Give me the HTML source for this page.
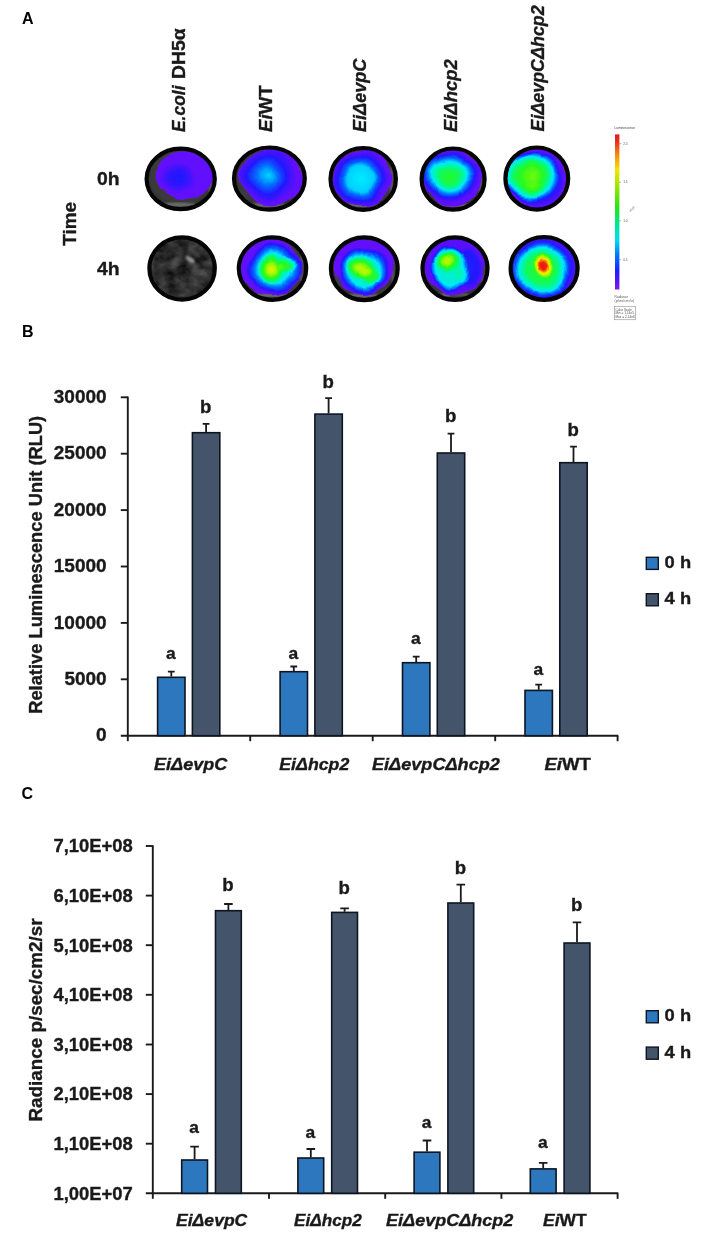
<!DOCTYPE html>
<html lang="en"><head><meta charset="utf-8"><title>Figure</title>
<style>html,body{margin:0;padding:0;background:#fff}svg{display:block;font-family:"Liberation Sans", sans-serif;will-change:transform}</style></head><body>
<svg width="703" height="1240" viewBox="0 0 703 1240">
<rect width="703" height="1240" fill="#fff"/>
<text x="22.0" y="23.6" font-size="16" font-weight="bold" font-style="normal" text-anchor="start" fill="#000" stroke="#000" stroke-width="0">A</text>
<text x="22.0" y="337.4" font-size="16" font-weight="bold" font-style="normal" text-anchor="start" fill="#000" stroke="#000" stroke-width="0">B</text>
<text x="21.5" y="799.4" font-size="16" font-weight="bold" font-style="normal" text-anchor="start" fill="#000" stroke="#000" stroke-width="0">C</text>
<defs>
<filter id="cm" x="-10%" y="-10%" width="120%" height="120%" color-interpolation-filters="sRGB"><feTurbulence type="fractalNoise" baseFrequency="0.05" numOctaves="1" seed="7" result="n"/><feDisplacementMap in="SourceGraphic" in2="n" scale="8" xChannelSelector="R" yChannelSelector="G" result="d"/><feColorMatrix in="d" type="matrix" values="0 0 0 1 0  0 0 0 1 0  0 0 0 1 0  0 0 0 1 0" result="g"/><feComponentTransfer in="g"><feFuncR type="table" tableValues="0.478 0.408 0.133 0.000 0.000 0.000 0.157 0.667 0.980 0.988 0.910"/><feFuncG type="table" tableValues="0.086 0.055 0.094 0.471 0.910 0.980 0.980 0.980 0.925 0.510 0.086"/><feFuncB type="table" tableValues="0.980 0.988 1.000 1.000 1.000 0.588 0.118 0.000 0.000 0.000 0.071"/><feFuncA type="table" tableValues="0 0 1 1 1 1 1 1 1 1 1 1 1 1 1 1 1 1 1 1 1 1 1 1 1"/></feComponentTransfer><feGaussianBlur stdDeviation="0.6"/></filter>
<filter id="tex" x="0" y="0" width="100%" height="100%" color-interpolation-filters="sRGB"><feTurbulence type="fractalNoise" baseFrequency="0.09" numOctaves="3" seed="3"/><feColorMatrix type="matrix" values=".36 .36 0 0 -.20  .36 .36 0 0 -.20  .36 .36 0 0 -.20  0 0 0 0 1"/></filter>
<filter id="bl1"><feGaussianBlur stdDeviation="1.2"/></filter>
<filter id="bl2"><feGaussianBlur stdDeviation="2.2"/></filter>
<radialGradient id="gbg" cx=".5" cy=".45" r=".55"><stop offset="0" stop-color="#3c3c3c"/><stop offset=".75" stop-color="#3a3a3a"/><stop offset="1" stop-color="#262626"/></radialGradient>
<linearGradient id="cbar" x1="0" y1="0" x2="0" y2="1"><stop offset="0" stop-color="#e31a1a"/><stop offset=".05" stop-color="#e8321a"/><stop offset=".13" stop-color="#f58a10"/><stop offset=".23" stop-color="#f2e600"/><stop offset=".36" stop-color="#86e600"/><stop offset=".48" stop-color="#1ee61e"/><stop offset=".58" stop-color="#00e696"/><stop offset=".68" stop-color="#00dcf0"/><stop offset=".78" stop-color="#0078ff"/><stop offset=".88" stop-color="#1e1eff"/><stop offset=".95" stop-color="#5a14f0"/><stop offset="1" stop-color="#7a1ee6"/></linearGradient>
<radialGradient id="f1"><stop offset="0" stop-color="#fff" stop-opacity="0.11"/><stop offset="0.9" stop-color="#fff" stop-opacity="0.11"/><stop offset="1" stop-color="#fff" stop-opacity="0"/></radialGradient>
<radialGradient id="f2"><stop offset="0" stop-color="#fff" stop-opacity="0.11"/><stop offset="0.45" stop-color="#fff" stop-opacity="0.08"/><stop offset="1" stop-color="#fff" stop-opacity="0"/></radialGradient>
<radialGradient id="f3"><stop offset="0" stop-color="#fff" stop-opacity="0.11"/><stop offset="0.93" stop-color="#fff" stop-opacity="0.11"/><stop offset="1" stop-color="#fff" stop-opacity="0"/></radialGradient>
<radialGradient id="f4"><stop offset="0" stop-color="#fff" stop-opacity="0.31"/><stop offset="0.22" stop-color="#fff" stop-opacity="0.25"/><stop offset="0.5" stop-color="#fff" stop-opacity="0.15"/><stop offset="0.78" stop-color="#fff" stop-opacity="0.07"/><stop offset="1" stop-color="#fff" stop-opacity="0"/></radialGradient>
<radialGradient id="f5"><stop offset="0" stop-color="#fff" stop-opacity="0.11"/><stop offset="0.93" stop-color="#fff" stop-opacity="0.11"/><stop offset="1" stop-color="#fff" stop-opacity="0"/></radialGradient>
<radialGradient id="f6"><stop offset="0" stop-color="#fff" stop-opacity="0.33"/><stop offset="0.45" stop-color="#fff" stop-opacity="0.3"/><stop offset="0.62" stop-color="#fff" stop-opacity="0.18"/><stop offset="0.85" stop-color="#fff" stop-opacity="0.07"/><stop offset="1" stop-color="#fff" stop-opacity="0"/></radialGradient>
<radialGradient id="f7"><stop offset="0" stop-color="#fff" stop-opacity="0.11"/><stop offset="0.93" stop-color="#fff" stop-opacity="0.11"/><stop offset="1" stop-color="#fff" stop-opacity="0"/></radialGradient>
<radialGradient id="f8"><stop offset="0" stop-color="#fff" stop-opacity="0.54"/><stop offset="0.28" stop-color="#fff" stop-opacity="0.5"/><stop offset="0.48" stop-color="#fff" stop-opacity="0.4"/><stop offset="0.66" stop-color="#fff" stop-opacity="0.24"/><stop offset="0.85" stop-color="#fff" stop-opacity="0.08"/><stop offset="1" stop-color="#fff" stop-opacity="0"/></radialGradient>
<radialGradient id="f9"><stop offset="0" stop-color="#fff" stop-opacity="0.19"/><stop offset="0.78" stop-color="#fff" stop-opacity="0.18"/><stop offset="0.9" stop-color="#fff" stop-opacity="0.12"/><stop offset="1" stop-color="#fff" stop-opacity="0.1"/></radialGradient>
<radialGradient id="f10"><stop offset="0" stop-color="#fff" stop-opacity="0.58"/><stop offset="0.3" stop-color="#fff" stop-opacity="0.53"/><stop offset="0.55" stop-color="#fff" stop-opacity="0.45"/><stop offset="0.74" stop-color="#fff" stop-opacity="0.28"/><stop offset="0.9" stop-color="#fff" stop-opacity="0.09"/><stop offset="1" stop-color="#fff" stop-opacity="0"/></radialGradient>
<radialGradient id="f11"><stop offset="0" stop-color="#fff" stop-opacity="0.12"/><stop offset="0.6" stop-color="#fff" stop-opacity="0.08"/><stop offset="1" stop-color="#fff" stop-opacity="0"/></radialGradient>
<radialGradient id="f12"><stop offset="0" stop-color="#fff" stop-opacity="0.11"/><stop offset="0.93" stop-color="#fff" stop-opacity="0.11"/><stop offset="1" stop-color="#fff" stop-opacity="0"/></radialGradient>
<radialGradient id="f13"><stop offset="0" stop-color="#fff" stop-opacity="0.42"/><stop offset="0.5" stop-color="#fff" stop-opacity="0.36"/><stop offset="0.69" stop-color="#fff" stop-opacity="0.21"/><stop offset="0.88" stop-color="#fff" stop-opacity="0.1"/><stop offset="1" stop-color="#fff" stop-opacity="0"/></radialGradient>
<radialGradient id="f14"><stop offset="0" stop-color="#fff" stop-opacity="0.6"/><stop offset="0.25" stop-color="#fff" stop-opacity="0.44"/><stop offset="0.7" stop-color="#fff" stop-opacity="0.2"/><stop offset="1" stop-color="#fff" stop-opacity="0"/></radialGradient>
<radialGradient id="f15"><stop offset="0" stop-color="#fff" stop-opacity="0.32"/><stop offset="0.6" stop-color="#fff" stop-opacity="0.22"/><stop offset="1" stop-color="#fff" stop-opacity="0"/></radialGradient>
<radialGradient id="f16"><stop offset="0" stop-color="#fff" stop-opacity="0.11"/><stop offset="0.93" stop-color="#fff" stop-opacity="0.11"/><stop offset="1" stop-color="#fff" stop-opacity="0"/></radialGradient>
<radialGradient id="f17"><stop offset="0" stop-color="#fff" stop-opacity="0.4"/><stop offset="0.6" stop-color="#fff" stop-opacity="0.36"/><stop offset="0.8" stop-color="#fff" stop-opacity="0.18"/><stop offset="0.93" stop-color="#fff" stop-opacity="0.06"/><stop offset="1" stop-color="#fff" stop-opacity="0"/></radialGradient>
<radialGradient id="f18"><stop offset="0" stop-color="#fff" stop-opacity="0.5"/><stop offset="0.35" stop-color="#fff" stop-opacity="0.4"/><stop offset="0.7" stop-color="#fff" stop-opacity="0.22"/><stop offset="1" stop-color="#fff" stop-opacity="0"/></radialGradient>
<radialGradient id="f19"><stop offset="0" stop-color="#fff" stop-opacity="0.3"/><stop offset="0.6" stop-color="#fff" stop-opacity="0.2"/><stop offset="1" stop-color="#fff" stop-opacity="0"/></radialGradient>
<radialGradient id="f20"><stop offset="0" stop-color="#fff" stop-opacity="0.13"/><stop offset="0.93" stop-color="#fff" stop-opacity="0.12"/><stop offset="1" stop-color="#fff" stop-opacity="0"/></radialGradient>
<radialGradient id="f21"><stop offset="0" stop-color="#fff" stop-opacity="0.1"/><stop offset="0.7" stop-color="#fff" stop-opacity="0.08"/><stop offset="1" stop-color="#fff" stop-opacity="0"/></radialGradient>
<radialGradient id="f22"><stop offset="0" stop-color="#fff" stop-opacity="0.38"/><stop offset="0.65" stop-color="#fff" stop-opacity="0.34"/><stop offset="0.84" stop-color="#fff" stop-opacity="0.2"/><stop offset="0.95" stop-color="#fff" stop-opacity="0.05"/><stop offset="1" stop-color="#fff" stop-opacity="0"/></radialGradient>
<radialGradient id="f23"><stop offset="0" stop-color="#fff" stop-opacity="0.52"/><stop offset="0.35" stop-color="#fff" stop-opacity="0.42"/><stop offset="0.7" stop-color="#fff" stop-opacity="0.2"/><stop offset="1" stop-color="#fff" stop-opacity="0"/></radialGradient>
<radialGradient id="f24"><stop offset="0" stop-color="#fff" stop-opacity="0.17"/><stop offset="0.95" stop-color="#fff" stop-opacity="0.16"/><stop offset="1" stop-color="#fff" stop-opacity="0.12"/></radialGradient>
<radialGradient id="f25"><stop offset="0" stop-color="#fff" stop-opacity="0.5"/><stop offset="0.5" stop-color="#fff" stop-opacity="0.46"/><stop offset="0.72" stop-color="#fff" stop-opacity="0.32"/><stop offset="0.88" stop-color="#fff" stop-opacity="0.1"/><stop offset="1" stop-color="#fff" stop-opacity="0"/></radialGradient>
<radialGradient id="f26"><stop offset="0" stop-color="#fff" stop-opacity="1"/><stop offset="0.3" stop-color="#fff" stop-opacity="0.96"/><stop offset="0.42" stop-color="#fff" stop-opacity="0.8"/><stop offset="0.6" stop-color="#fff" stop-opacity="0.45"/><stop offset="0.82" stop-color="#fff" stop-opacity="0.15"/><stop offset="1" stop-color="#fff" stop-opacity="0"/></radialGradient>
<clipPath id="w00"><ellipse cx="180.7" cy="178.9" rx="32.6" ry="28.8"/></clipPath>
<clipPath id="w01"><ellipse cx="269.4" cy="178.6" rx="33.9" ry="29.6"/></clipPath>
<clipPath id="w02"><ellipse cx="363.2" cy="178.9" rx="31.2" ry="29.4"/></clipPath>
<clipPath id="w03"><ellipse cx="453.1" cy="179.1" rx="30.0" ry="29.1"/></clipPath>
<clipPath id="w04"><ellipse cx="536.8" cy="178.6" rx="29.9" ry="29.6"/></clipPath>
<clipPath id="w10"><ellipse cx="182.1" cy="268.5" rx="31.2" ry="29.7"/></clipPath>
<clipPath id="w11"><ellipse cx="272.5" cy="268.6" rx="32.2" ry="29.7"/></clipPath>
<clipPath id="w12"><ellipse cx="364.3" cy="268.7" rx="31.9" ry="29.9"/></clipPath>
<clipPath id="w13"><ellipse cx="455.0" cy="268.6" rx="31.0" ry="29.8"/></clipPath>
<clipPath id="w14"><ellipse cx="544.1" cy="268.4" rx="32.0" ry="29.9"/></clipPath>
</defs>
<g clip-path="url(#w00)">
<ellipse cx="180.7" cy="178.9" rx="36.2" ry="32.4" fill="url(#gbg)"/>
<ellipse cx="177.7" cy="204.8" rx="19.9" ry="2.2" fill="#9a9a9a" opacity=".55" filter="url(#bl1)"/>
<ellipse cx="210.4" cy="180.9" rx="1.6" ry="14.6" fill="#8c8c8c" opacity=".5" filter="url(#bl1)"/>
</g>
<g clip-path="url(#w00)"><g filter="url(#cm)">
<ellipse cx="184.0" cy="175.6" rx="30.0" ry="25.8" fill="url(#f1)"/>
<ellipse cx="178.0" cy="178.5" rx="19" ry="15" fill="url(#f2)"/>
</g></g>
<ellipse cx="180.7" cy="178.9" rx="34.10" ry="30.30" fill="none" stroke="#050505" stroke-width="4.2"/>
<g clip-path="url(#w01)">
<ellipse cx="269.4" cy="178.6" rx="37.5" ry="33.2" fill="url(#gbg)"/>
<ellipse cx="266.4" cy="205.3" rx="20.6" ry="2.2" fill="#9a9a9a" opacity=".55" filter="url(#bl1)"/>
<ellipse cx="300.4" cy="180.6" rx="1.6" ry="14.9" fill="#8c8c8c" opacity=".5" filter="url(#bl1)"/>
</g>
<g clip-path="url(#w01)"><g filter="url(#cm)">
<ellipse cx="271.0" cy="177.0" rx="33.5" ry="29.5" fill="url(#f3)"/>
<ellipse cx="267.5" cy="175.5" rx="30" ry="27" fill="url(#f4)"/>
</g></g>
<g clip-path="url(#w01)">
<ellipse cx="243.0" cy="196.0" rx="4.0" ry="9.0" transform="rotate(-35 243.0 196.0)" fill="#3d3d3d" filter="url(#bl1)"/>
</g>
<ellipse cx="269.4" cy="178.6" rx="35.40" ry="31.10" fill="none" stroke="#050505" stroke-width="4.2"/>
<g clip-path="url(#w02)">
<ellipse cx="363.2" cy="178.9" rx="34.8" ry="33.0" fill="url(#gbg)"/>
<ellipse cx="360.2" cy="205.4" rx="19.1" ry="2.2" fill="#9a9a9a" opacity=".55" filter="url(#bl1)"/>
<ellipse cx="391.5" cy="180.9" rx="1.6" ry="14.8" fill="#8c8c8c" opacity=".5" filter="url(#bl1)"/>
</g>
<g clip-path="url(#w02)"><g filter="url(#cm)">
<ellipse cx="362.5" cy="178.0" rx="31.0" ry="29.5" fill="url(#f5)"/>
<ellipse cx="360.2" cy="178.8" rx="29" ry="28" fill="url(#f6)"/>
</g></g>
<ellipse cx="363.2" cy="178.9" rx="32.70" ry="30.90" fill="none" stroke="#050505" stroke-width="4.2"/>
<g clip-path="url(#w03)">
<ellipse cx="453.1" cy="179.1" rx="33.6" ry="32.7" fill="url(#gbg)"/>
<ellipse cx="450.1" cy="205.3" rx="18.5" ry="2.2" fill="#9a9a9a" opacity=".55" filter="url(#bl1)"/>
<ellipse cx="480.2" cy="181.1" rx="1.6" ry="14.7" fill="#8c8c8c" opacity=".5" filter="url(#bl1)"/>
</g>
<g clip-path="url(#w03)"><g filter="url(#cm)">
<ellipse cx="452.5" cy="178.0" rx="30.0" ry="29.0" fill="url(#f7)"/>
<ellipse cx="449.6" cy="176.3" rx="30" ry="26" fill="url(#f8)"/>
</g></g>
<ellipse cx="453.1" cy="179.1" rx="31.50" ry="30.60" fill="none" stroke="#050505" stroke-width="4.2"/>
<g clip-path="url(#w04)">
<ellipse cx="536.8" cy="178.6" rx="33.5" ry="33.2" fill="url(#gbg)"/>
<ellipse cx="533.8" cy="205.3" rx="18.4" ry="2.2" fill="#9a9a9a" opacity=".55" filter="url(#bl1)"/>
<ellipse cx="563.8" cy="180.6" rx="1.6" ry="14.9" fill="#8c8c8c" opacity=".5" filter="url(#bl1)"/>
</g>
<g clip-path="url(#w04)"><g filter="url(#cm)">
<ellipse cx="536.8" cy="178.6" rx="31.0" ry="30.5" fill="url(#f9)"/>
<ellipse cx="531.0" cy="176.0" rx="29.5" ry="26" fill="url(#f10)"/>
<ellipse cx="533.0" cy="190.0" rx="20" ry="9" fill="url(#f11)"/>
</g></g>
<ellipse cx="536.8" cy="178.6" rx="31.40" ry="31.10" fill="none" stroke="#050505" stroke-width="4.2"/>
<g clip-path="url(#w10)">
<ellipse cx="182.1" cy="268.5" rx="34.8" ry="33.3" fill="url(#gbg)"/>
<ellipse cx="179.1" cy="295.3" rx="19.1" ry="2.2" fill="#9a9a9a" opacity=".55" filter="url(#bl1)"/>
<ellipse cx="210.4" cy="270.5" rx="1.6" ry="15.0" fill="#8c8c8c" opacity=".5" filter="url(#bl1)"/>
<rect x="147.3" y="235.2" width="69.6" height="66.6" filter="url(#tex)" opacity=".75"/>
<ellipse cx="190" cy="259.5" rx="5.5" ry="2.2" transform="rotate(35 190 259.5)" fill="#b4b4b4" opacity=".8" filter="url(#bl1)"/>
<ellipse cx="176" cy="262" rx="9" ry="4" transform="rotate(-20 176 262)" fill="#6a6a6a" opacity=".5" filter="url(#bl2)"/>
<ellipse cx="196" cy="283" rx="7" ry="3" transform="rotate(-40 196 283)" fill="#707070" opacity=".45" filter="url(#bl2)"/>
</g>
<ellipse cx="182.1" cy="268.5" rx="32.70" ry="31.20" fill="none" stroke="#050505" stroke-width="4.2"/>
<g clip-path="url(#w11)">
<ellipse cx="272.5" cy="268.6" rx="35.8" ry="33.3" fill="url(#gbg)"/>
<ellipse cx="269.5" cy="295.4" rx="19.7" ry="2.2" fill="#9a9a9a" opacity=".55" filter="url(#bl1)"/>
<ellipse cx="301.8" cy="270.6" rx="1.6" ry="15.0" fill="#8c8c8c" opacity=".5" filter="url(#bl1)"/>
</g>
<g clip-path="url(#w11)"><g filter="url(#cm)">
<ellipse cx="270.5" cy="267.5" rx="32.0" ry="30.0" fill="url(#f12)"/>
<ellipse cx="274.5" cy="269.0" rx="29" ry="26" fill="url(#f13)"/>
<ellipse cx="271.8" cy="269.2" rx="13.5" ry="14.5" fill="url(#f14)"/>
<ellipse cx="287.5" cy="264.5" rx="10" ry="9" fill="url(#f15)"/>
</g></g>
<g clip-path="url(#w11)">
<ellipse cx="297.0" cy="290.0" rx="8.5" ry="5.0" transform="rotate(-45 297.0 290.0)" fill="#3d3d3d" filter="url(#bl1)"/>
<ellipse cx="304.5" cy="272.0" rx="2.5" ry="9.0" transform="rotate(0 304.5 272.0)" fill="#3d3d3d" filter="url(#bl1)"/>
</g>
<ellipse cx="272.5" cy="268.6" rx="33.70" ry="31.20" fill="none" stroke="#050505" stroke-width="4.2"/>
<g clip-path="url(#w12)">
<ellipse cx="364.3" cy="268.7" rx="35.5" ry="33.5" fill="url(#gbg)"/>
<ellipse cx="361.3" cy="295.7" rx="19.5" ry="2.2" fill="#9a9a9a" opacity=".55" filter="url(#bl1)"/>
<ellipse cx="393.3" cy="270.7" rx="1.6" ry="15.1" fill="#8c8c8c" opacity=".5" filter="url(#bl1)"/>
</g>
<g clip-path="url(#w12)"><g filter="url(#cm)">
<ellipse cx="363.5" cy="266.5" rx="32.0" ry="29.5" fill="url(#f16)"/>
<ellipse cx="364.0" cy="271.0" rx="25.5" ry="24" fill="url(#f17)"/>
<ellipse cx="361.5" cy="268.0" rx="15" ry="12" fill="url(#f18)" transform="rotate(-25 361.5 268.0)"/>
<ellipse cx="371.0" cy="275.5" rx="11" ry="10" fill="url(#f19)"/>
</g></g>
<g clip-path="url(#w12)">
<ellipse cx="336.5" cy="283.0" rx="4.5" ry="8.0" transform="rotate(-25 336.5 283.0)" fill="#3d3d3d" filter="url(#bl1)"/>
<ellipse cx="385.5" cy="291.5" rx="8.0" ry="4.0" transform="rotate(-35 385.5 291.5)" fill="#3d3d3d" filter="url(#bl1)"/>
<ellipse cx="395.5" cy="270.0" rx="2.2" ry="9.0" transform="rotate(0 395.5 270.0)" fill="#3d3d3d" filter="url(#bl1)"/>
</g>
<ellipse cx="364.3" cy="268.7" rx="33.40" ry="31.40" fill="none" stroke="#050505" stroke-width="4.2"/>
<g clip-path="url(#w13)">
<ellipse cx="455.0" cy="268.6" rx="34.6" ry="33.4" fill="url(#gbg)"/>
<ellipse cx="452.0" cy="295.5" rx="19.0" ry="2.2" fill="#9a9a9a" opacity=".55" filter="url(#bl1)"/>
<ellipse cx="483.1" cy="270.6" rx="1.6" ry="15.0" fill="#8c8c8c" opacity=".5" filter="url(#bl1)"/>
</g>
<g clip-path="url(#w13)"><g filter="url(#cm)">
<ellipse cx="455.0" cy="267.0" rx="31.5" ry="30.0" fill="url(#f20)"/>
<ellipse cx="468.0" cy="268.0" rx="14" ry="22" fill="url(#f21)"/>
<ellipse cx="449.5" cy="269.0" rx="19" ry="25" fill="url(#f22)" transform="rotate(-12 449.5 269.0)"/>
<ellipse cx="447.5" cy="259.8" rx="14" ry="12.5" fill="url(#f23)" transform="rotate(-20 447.5 259.8)"/>
</g></g>
<g clip-path="url(#w13)">
<ellipse cx="458.0" cy="298.0" rx="12.0" ry="3.0" transform="rotate(0 458.0 298.0)" fill="#3d3d3d" filter="url(#bl1)"/>
<ellipse cx="485.0" cy="272.0" rx="2.0" ry="8.0" transform="rotate(0 485.0 272.0)" fill="#3d3d3d" filter="url(#bl1)"/>
</g>
<ellipse cx="455.0" cy="268.6" rx="32.50" ry="31.30" fill="none" stroke="#050505" stroke-width="4.2"/>
<g clip-path="url(#w14)">
<ellipse cx="544.1" cy="268.4" rx="35.6" ry="33.5" fill="url(#gbg)"/>
<ellipse cx="541.1" cy="295.4" rx="19.6" ry="2.2" fill="#9a9a9a" opacity=".55" filter="url(#bl1)"/>
<ellipse cx="573.2" cy="270.4" rx="1.6" ry="15.1" fill="#8c8c8c" opacity=".5" filter="url(#bl1)"/>
</g>
<g clip-path="url(#w14)"><g filter="url(#cm)">
<ellipse cx="544.1" cy="268.4" rx="33.0" ry="31.0" fill="url(#f24)"/>
<ellipse cx="541.5" cy="269.3" rx="30.5" ry="29.5" fill="url(#f25)"/>
<ellipse cx="543.8" cy="265.5" rx="10" ry="14.5" fill="url(#f26)" transform="rotate(-18 543.8 265.5)"/>
</g></g>
<ellipse cx="544.1" cy="268.4" rx="33.50" ry="31.40" fill="none" stroke="#050505" stroke-width="4.2"/>
<text x="185.1" y="132.0" font-size="18.8" font-weight="bold" font-style="normal" text-anchor="start" fill="#1a1a1a" stroke="#1a1a1a" stroke-width="0.35" textLength="46.5" lengthAdjust="spacingAndGlyphs" transform="rotate(-90 185.1 132.0)"><tspan font-style="italic">E.coli</tspan></text>
<text x="185.1" y="79.0" font-size="18.8" font-weight="bold" font-style="normal" text-anchor="start" fill="#1a1a1a" stroke="#1a1a1a" stroke-width="0.35" textLength="50.6" lengthAdjust="spacingAndGlyphs" transform="rotate(-90 185.1 79.0)"><tspan font-style="normal">DH5&#945;</tspan></text>
<text x="272.4" y="131.9" font-size="18.8" font-weight="bold" font-style="normal" text-anchor="start" fill="#1a1a1a" stroke="#1a1a1a" stroke-width="0.35" textLength="46.6" lengthAdjust="spacingAndGlyphs" transform="rotate(-90 272.4 131.9)"><tspan font-style="italic">Ei</tspan><tspan font-style="normal">WT</tspan></text>
<text x="365.7" y="132.1" font-size="18.8" font-weight="bold" font-style="normal" text-anchor="start" fill="#1a1a1a" stroke="#1a1a1a" stroke-width="0.35" textLength="73.5" lengthAdjust="spacingAndGlyphs" transform="rotate(-90 365.7 132.1)"><tspan font-style="italic">Ei&#916;evpC</tspan></text>
<text x="456.8" y="132.1" font-size="18.8" font-weight="bold" font-style="normal" text-anchor="start" fill="#1a1a1a" stroke="#1a1a1a" stroke-width="0.35" textLength="72.8" lengthAdjust="spacingAndGlyphs" transform="rotate(-90 456.8 132.1)"><tspan font-style="italic">Ei&#916;hcp2</tspan></text>
<text x="544.2" y="131.5" font-size="18.8" font-weight="bold" font-style="normal" text-anchor="start" fill="#1a1a1a" stroke="#1a1a1a" stroke-width="0.35" textLength="126.2" lengthAdjust="spacingAndGlyphs" transform="rotate(-90 544.2 131.5)"><tspan font-style="italic">Ei&#916;evpC&#916;hcp2</tspan></text>
<text x="96.9" y="185.2" font-size="18.7" font-weight="bold" font-style="normal" text-anchor="start" fill="#1a1a1a" stroke="#1a1a1a" stroke-width="0.35" textLength="22.6" lengthAdjust="spacingAndGlyphs">0h</text>
<text x="96.9" y="274.8" font-size="18.7" font-weight="bold" font-style="normal" text-anchor="start" fill="#1a1a1a" stroke="#1a1a1a" stroke-width="0.35" textLength="22.6" lengthAdjust="spacingAndGlyphs">4h</text>
<text x="76.0" y="245.8" font-size="19.0" font-weight="bold" font-style="normal" text-anchor="start" fill="#1a1a1a" stroke="#1a1a1a" stroke-width="0.35" textLength="44.0" lengthAdjust="spacingAndGlyphs" transform="rotate(-90 76.0 245.8)">Time</text>
<rect x="615" y="134.4" width="4.4" height="155.1" fill="url(#cbar)"/>
<g font-weight="normal" fill="#555">
<text x="614.6" y="129" font-size="3.2" font-weight="normal" fill="#533">Luminescence</text>
<path d="M619.4 143.6h1.6" stroke="#666" stroke-width=".5"/>
<text x="623.2" y="144.7" font-size="3.2" font-weight="normal">2.0</text>
<path d="M619.4 182.3h1.6" stroke="#666" stroke-width=".5"/>
<text x="623.2" y="183.4" font-size="3.2" font-weight="normal">1.5</text>
<path d="M619.4 220.9h1.6" stroke="#666" stroke-width=".5"/>
<text x="623.2" y="222.0" font-size="3.2" font-weight="normal">1.0</text>
<path d="M619.4 259.6h1.6" stroke="#666" stroke-width=".5"/>
<text x="623.2" y="260.70000000000005" font-size="3.2" font-weight="normal">0.5</text>
<text x="630" y="212" font-size="3.2" font-weight="normal" transform="rotate(-35 630 212)">x10<tspan dy="-1.2" font-size="2.4">6</tspan></text>
<text x="614.6" y="298.2" font-size="3.2" font-weight="normal">Radiance</text>
<text x="614.6" y="302.4" font-size="3.2" font-weight="normal">(p/sec/cm&#178;/sr)</text>
<rect x="614.3" y="306.6" width="21.4" height="13.2" fill="#fff" stroke="#777" stroke-width=".5"/>
<text x="615.4" y="310.6" font-size="3.2" font-weight="normal">Color Scale</text>
<text x="615.4" y="314.4" font-size="3.2" font-weight="normal">Min = 1.14e5</text>
<text x="615.4" y="318.2" font-size="3.2" font-weight="normal">Max = 2.14e6</text>
</g>
<g stroke="#1a1a1a" stroke-width="1.9" fill="none" stroke-linecap="butt">
<path d="M127.8 396.6V736.4"/>
<path d="M120.8 735.7H618.3"/>
<path d="M120.8 397.3H127.8"/>
<path d="M120.8 453.7H127.8"/>
<path d="M120.8 510.1H127.8"/>
<path d="M120.8 566.5H127.8"/>
<path d="M120.8 622.9H127.8"/>
<path d="M120.8 679.3H127.8"/>
<path d="M127.8 735.7V741.2"/>
<path d="M250.2 735.7V741.2"/>
<path d="M372.7 735.7V741.2"/>
<path d="M495.2 735.7V741.2"/>
<path d="M617.6 735.7V741.2"/>
</g>
<text x="106.6" y="402.9" font-size="18.7" font-weight="bold" font-style="normal" text-anchor="end" fill="#1a1a1a" stroke="#1a1a1a" stroke-width="0.35" textLength="52.8" lengthAdjust="spacingAndGlyphs">30000</text>
<text x="106.6" y="459.3" font-size="18.7" font-weight="bold" font-style="normal" text-anchor="end" fill="#1a1a1a" stroke="#1a1a1a" stroke-width="0.35" textLength="52.8" lengthAdjust="spacingAndGlyphs">25000</text>
<text x="106.6" y="515.7" font-size="18.7" font-weight="bold" font-style="normal" text-anchor="end" fill="#1a1a1a" stroke="#1a1a1a" stroke-width="0.35" textLength="52.8" lengthAdjust="spacingAndGlyphs">20000</text>
<text x="106.6" y="572.1" font-size="18.7" font-weight="bold" font-style="normal" text-anchor="end" fill="#1a1a1a" stroke="#1a1a1a" stroke-width="0.35" textLength="52.8" lengthAdjust="spacingAndGlyphs">15000</text>
<text x="106.6" y="628.5" font-size="18.7" font-weight="bold" font-style="normal" text-anchor="end" fill="#1a1a1a" stroke="#1a1a1a" stroke-width="0.35" textLength="52.8" lengthAdjust="spacingAndGlyphs">10000</text>
<text x="106.6" y="684.9" font-size="18.7" font-weight="bold" font-style="normal" text-anchor="end" fill="#1a1a1a" stroke="#1a1a1a" stroke-width="0.35" textLength="42.2" lengthAdjust="spacingAndGlyphs">5000</text>
<text x="106.6" y="741.3" font-size="18.7" font-weight="bold" font-style="normal" text-anchor="end" fill="#1a1a1a" stroke="#1a1a1a" stroke-width="0.35" textLength="10.6" lengthAdjust="spacingAndGlyphs">0</text>
<text x="41.8" y="564.8" font-size="19.0" font-weight="bold" font-style="normal" text-anchor="middle" fill="#1a1a1a" stroke="#1a1a1a" stroke-width="0.35" textLength="298.0" lengthAdjust="spacingAndGlyphs" transform="rotate(-90 41.8 564.8)">Relative Luminescence Unit (RLU)</text>
<rect x="157.6" y="677.3" width="27.4" height="58.4" fill="#2c77bd" stroke="#0d1522" stroke-width="1.6"/>
<path d="M171.3 676.6V671.0M167.9 671.7H174.7" stroke="#1a1a1a" stroke-width="1.8" fill="none"/>
<text x="170.9" y="659.0" font-size="17.4" font-weight="bold" font-style="normal" text-anchor="middle" fill="#1a1a1a" stroke="#1a1a1a" stroke-width="0.35">a</text>
<rect x="192.4" y="432.7" width="27.4" height="303.0" fill="#44546a" stroke="#0d1522" stroke-width="1.6"/>
<path d="M206.1 432.0V423.2M202.7 423.9H209.5" stroke="#1a1a1a" stroke-width="1.8" fill="none"/>
<text x="205.7" y="412.5" font-size="18.6" font-weight="bold" font-style="normal" text-anchor="middle" fill="#1a1a1a" stroke="#1a1a1a" stroke-width="0.35">b</text>
<rect x="280.1" y="671.7" width="27.4" height="64.0" fill="#2c77bd" stroke="#0d1522" stroke-width="1.6"/>
<path d="M293.8 671.0V665.8M290.4 666.5H297.2" stroke="#1a1a1a" stroke-width="1.8" fill="none"/>
<text x="293.4" y="659.3" font-size="17.4" font-weight="bold" font-style="normal" text-anchor="middle" fill="#1a1a1a" stroke="#1a1a1a" stroke-width="0.35">a</text>
<rect x="314.9" y="414.1" width="27.4" height="321.6" fill="#44546a" stroke="#0d1522" stroke-width="1.6"/>
<path d="M328.6 413.4V397.4M325.2 398.1H332.0" stroke="#1a1a1a" stroke-width="1.8" fill="none"/>
<text x="328.2" y="388.3" font-size="18.6" font-weight="bold" font-style="normal" text-anchor="middle" fill="#1a1a1a" stroke="#1a1a1a" stroke-width="0.35">b</text>
<rect x="402.5" y="662.7" width="27.4" height="73.0" fill="#2c77bd" stroke="#0d1522" stroke-width="1.6"/>
<path d="M416.2 662.0V656.0M412.8 656.7H419.6" stroke="#1a1a1a" stroke-width="1.8" fill="none"/>
<text x="415.8" y="644.2" font-size="17.4" font-weight="bold" font-style="normal" text-anchor="middle" fill="#1a1a1a" stroke="#1a1a1a" stroke-width="0.35">a</text>
<rect x="437.3" y="453.0" width="27.4" height="282.7" fill="#44546a" stroke="#0d1522" stroke-width="1.6"/>
<path d="M451.0 452.3V433.0M447.6 433.7H454.4" stroke="#1a1a1a" stroke-width="1.8" fill="none"/>
<text x="450.6" y="421.7" font-size="18.6" font-weight="bold" font-style="normal" text-anchor="middle" fill="#1a1a1a" stroke="#1a1a1a" stroke-width="0.35">b</text>
<rect x="525.0" y="690.4" width="27.4" height="45.3" fill="#2c77bd" stroke="#0d1522" stroke-width="1.6"/>
<path d="M538.7 689.7V684.0M535.3 684.7H542.1" stroke="#1a1a1a" stroke-width="1.8" fill="none"/>
<text x="538.3" y="675.2" font-size="17.4" font-weight="bold" font-style="normal" text-anchor="middle" fill="#1a1a1a" stroke="#1a1a1a" stroke-width="0.35">a</text>
<rect x="559.8" y="462.7" width="27.4" height="273.0" fill="#44546a" stroke="#0d1522" stroke-width="1.6"/>
<path d="M573.5 462.0V446.0M570.1 446.7H576.9" stroke="#1a1a1a" stroke-width="1.8" fill="none"/>
<text x="573.1" y="435.5" font-size="18.6" font-weight="bold" font-style="normal" text-anchor="middle" fill="#1a1a1a" stroke="#1a1a1a" stroke-width="0.35">b</text>
<text x="154.0" y="770.1" font-size="16.6" font-weight="bold" font-style="italic" text-anchor="start" fill="#1a1a1a" stroke="#1a1a1a" stroke-width="0.35" textLength="73.3" lengthAdjust="spacingAndGlyphs">Ei&#916;evpC</text>
<text x="279.3" y="770.1" font-size="16.6" font-weight="bold" font-style="italic" text-anchor="start" fill="#1a1a1a" stroke="#1a1a1a" stroke-width="0.35" textLength="70.0" lengthAdjust="spacingAndGlyphs">Ei&#916;hcp2</text>
<text x="372.0" y="770.1" font-size="16.6" font-weight="bold" font-style="italic" text-anchor="start" fill="#1a1a1a" stroke="#1a1a1a" stroke-width="0.35" textLength="127.8" lengthAdjust="spacingAndGlyphs">Ei&#916;evpC&#916;hcp2</text>
<text x="544.4" y="770.1" font-size="16.6" font-weight="bold" font-style="italic" text-anchor="start" fill="#1a1a1a" stroke="#1a1a1a" stroke-width="0.35" textLength="46.4" lengthAdjust="spacingAndGlyphs">Ei<tspan font-style="normal">WT</tspan></text>
<rect x="646.3" y="557.3" width="12" height="12.1" fill="#2c77bd" stroke="#0d1522" stroke-width="1.4"/>
<text x="664.6" y="567.9" font-size="17.2" font-weight="bold" font-style="normal" text-anchor="start" fill="#1a1a1a" stroke="#1a1a1a" stroke-width="0.35" textLength="26.5" lengthAdjust="spacingAndGlyphs">0 h</text>
<rect x="646.3" y="593.7" width="12" height="12.1" fill="#44546a" stroke="#0d1522" stroke-width="1.4"/>
<text x="664.6" y="604.3" font-size="17.2" font-weight="bold" font-style="normal" text-anchor="start" fill="#1a1a1a" stroke="#1a1a1a" stroke-width="0.35" textLength="26.5" lengthAdjust="spacingAndGlyphs">4 h</text>
<g stroke="#1a1a1a" stroke-width="1.9" fill="none" stroke-linecap="butt">
<path d="M152.8 845.3V1194.0"/>
<path d="M145.8 1193.3H618.3"/>
<path d="M145.8 846.0H152.8"/>
<path d="M145.8 895.6H152.8"/>
<path d="M145.8 945.2H152.8"/>
<path d="M145.8 994.8H152.8"/>
<path d="M145.8 1044.5H152.8"/>
<path d="M145.8 1094.1H152.8"/>
<path d="M145.8 1143.7H152.8"/>
<path d="M152.8 1193.3V1198.8"/>
<path d="M269.0 1193.3V1198.8"/>
<path d="M385.2 1193.3V1198.8"/>
<path d="M501.4 1193.3V1198.8"/>
<path d="M617.6 1193.3V1198.8"/>
</g>
<text x="132.8" y="852.3" font-size="18.7" font-weight="bold" font-style="normal" text-anchor="end" fill="#1a1a1a" stroke="#1a1a1a" stroke-width="0.35" textLength="79.4" lengthAdjust="spacingAndGlyphs">7,10E+08</text>
<text x="132.8" y="901.9" font-size="18.7" font-weight="bold" font-style="normal" text-anchor="end" fill="#1a1a1a" stroke="#1a1a1a" stroke-width="0.35" textLength="79.4" lengthAdjust="spacingAndGlyphs">6,10E+08</text>
<text x="132.8" y="951.5" font-size="18.7" font-weight="bold" font-style="normal" text-anchor="end" fill="#1a1a1a" stroke="#1a1a1a" stroke-width="0.35" textLength="79.4" lengthAdjust="spacingAndGlyphs">5,10E+08</text>
<text x="132.8" y="1001.1" font-size="18.7" font-weight="bold" font-style="normal" text-anchor="end" fill="#1a1a1a" stroke="#1a1a1a" stroke-width="0.35" textLength="79.4" lengthAdjust="spacingAndGlyphs">4,10E+08</text>
<text x="132.8" y="1050.8" font-size="18.7" font-weight="bold" font-style="normal" text-anchor="end" fill="#1a1a1a" stroke="#1a1a1a" stroke-width="0.35" textLength="79.4" lengthAdjust="spacingAndGlyphs">3,10E+08</text>
<text x="132.8" y="1100.4" font-size="18.7" font-weight="bold" font-style="normal" text-anchor="end" fill="#1a1a1a" stroke="#1a1a1a" stroke-width="0.35" textLength="79.4" lengthAdjust="spacingAndGlyphs">2,10E+08</text>
<text x="132.8" y="1150.0" font-size="18.7" font-weight="bold" font-style="normal" text-anchor="end" fill="#1a1a1a" stroke="#1a1a1a" stroke-width="0.35" textLength="79.4" lengthAdjust="spacingAndGlyphs">1,10E+08</text>
<text x="132.8" y="1199.6" font-size="18.7" font-weight="bold" font-style="normal" text-anchor="end" fill="#1a1a1a" stroke="#1a1a1a" stroke-width="0.35" textLength="79.4" lengthAdjust="spacingAndGlyphs">1,00E+07</text>
<text x="41.5" y="1020.0" font-size="19.0" font-weight="bold" font-style="normal" text-anchor="middle" fill="#1a1a1a" stroke="#1a1a1a" stroke-width="0.35" textLength="203.0" lengthAdjust="spacingAndGlyphs" transform="rotate(-90 41.5 1020.0)">Radiance p/sec/cm2/sr</text>
<rect x="181.7" y="1160.0" width="25.8" height="33.3" fill="#2c77bd" stroke="#0d1522" stroke-width="1.6"/>
<path d="M194.6 1159.3V1146.0M190.3 1146.7H198.9" stroke="#1a1a1a" stroke-width="1.8" fill="none"/>
<text x="194.2" y="1132.7" font-size="17.4" font-weight="bold" font-style="normal" text-anchor="middle" fill="#1a1a1a" stroke="#1a1a1a" stroke-width="0.35">a</text>
<rect x="215.5" y="910.7" width="25.8" height="282.6" fill="#44546a" stroke="#0d1522" stroke-width="1.6"/>
<path d="M228.4 910.0V903.3M224.1 904.0H232.7" stroke="#1a1a1a" stroke-width="1.8" fill="none"/>
<text x="228.0" y="890.7" font-size="18.6" font-weight="bold" font-style="normal" text-anchor="middle" fill="#1a1a1a" stroke="#1a1a1a" stroke-width="0.35">b</text>
<rect x="297.9" y="1158.0" width="25.8" height="35.3" fill="#2c77bd" stroke="#0d1522" stroke-width="1.6"/>
<path d="M310.8 1157.3V1148.3M306.5 1149.0H315.1" stroke="#1a1a1a" stroke-width="1.8" fill="none"/>
<text x="310.4" y="1138.3" font-size="17.4" font-weight="bold" font-style="normal" text-anchor="middle" fill="#1a1a1a" stroke="#1a1a1a" stroke-width="0.35">a</text>
<rect x="331.7" y="912.4" width="25.8" height="280.9" fill="#44546a" stroke="#0d1522" stroke-width="1.6"/>
<path d="M344.6 911.7V907.7M340.3 908.4H348.9" stroke="#1a1a1a" stroke-width="1.8" fill="none"/>
<text x="344.2" y="894.3" font-size="18.6" font-weight="bold" font-style="normal" text-anchor="middle" fill="#1a1a1a" stroke="#1a1a1a" stroke-width="0.35">b</text>
<rect x="414.1" y="1152.2" width="25.8" height="41.1" fill="#2c77bd" stroke="#0d1522" stroke-width="1.6"/>
<path d="M427.0 1151.5V1139.8M422.7 1140.5H431.3" stroke="#1a1a1a" stroke-width="1.8" fill="none"/>
<text x="426.6" y="1128.4" font-size="17.4" font-weight="bold" font-style="normal" text-anchor="middle" fill="#1a1a1a" stroke="#1a1a1a" stroke-width="0.35">a</text>
<rect x="447.9" y="903.0" width="25.8" height="290.3" fill="#44546a" stroke="#0d1522" stroke-width="1.6"/>
<path d="M460.8 902.3V884.0M456.5 884.7H465.1" stroke="#1a1a1a" stroke-width="1.8" fill="none"/>
<text x="460.4" y="874.0" font-size="18.6" font-weight="bold" font-style="normal" text-anchor="middle" fill="#1a1a1a" stroke="#1a1a1a" stroke-width="0.35">b</text>
<rect x="530.3" y="1168.9" width="25.8" height="24.4" fill="#2c77bd" stroke="#0d1522" stroke-width="1.6"/>
<path d="M543.2 1168.2V1162.2M538.9 1162.9H547.5" stroke="#1a1a1a" stroke-width="1.8" fill="none"/>
<text x="542.8" y="1147.6" font-size="17.4" font-weight="bold" font-style="normal" text-anchor="middle" fill="#1a1a1a" stroke="#1a1a1a" stroke-width="0.35">a</text>
<rect x="564.1" y="943.0" width="25.8" height="250.3" fill="#44546a" stroke="#0d1522" stroke-width="1.6"/>
<path d="M577.0 942.3V921.7M572.7 922.4H581.3" stroke="#1a1a1a" stroke-width="1.8" fill="none"/>
<text x="576.6" y="911.0" font-size="18.6" font-weight="bold" font-style="normal" text-anchor="middle" fill="#1a1a1a" stroke="#1a1a1a" stroke-width="0.35">b</text>
<text x="176.0" y="1226.3" font-size="16.6" font-weight="bold" font-style="italic" text-anchor="start" fill="#1a1a1a" stroke="#1a1a1a" stroke-width="0.35" textLength="71.3" lengthAdjust="spacingAndGlyphs">Ei&#916;evpC</text>
<text x="294.0" y="1226.3" font-size="16.6" font-weight="bold" font-style="italic" text-anchor="start" fill="#1a1a1a" stroke="#1a1a1a" stroke-width="0.35" textLength="67.7" lengthAdjust="spacingAndGlyphs">Ei&#916;hcp2</text>
<text x="386.0" y="1226.3" font-size="16.6" font-weight="bold" font-style="italic" text-anchor="start" fill="#1a1a1a" stroke="#1a1a1a" stroke-width="0.35" textLength="127.4" lengthAdjust="spacingAndGlyphs">Ei&#916;evpC&#916;hcp2</text>
<text x="543.0" y="1226.3" font-size="16.6" font-weight="bold" font-style="italic" text-anchor="start" fill="#1a1a1a" stroke="#1a1a1a" stroke-width="0.35" textLength="43.6" lengthAdjust="spacingAndGlyphs">Ei<tspan font-style="normal">WT</tspan></text>
<rect x="646.3" y="1010.7" width="12" height="12.1" fill="#2c77bd" stroke="#0d1522" stroke-width="1.4"/>
<text x="664.6" y="1021.3" font-size="17.2" font-weight="bold" font-style="normal" text-anchor="start" fill="#1a1a1a" stroke="#1a1a1a" stroke-width="0.35" textLength="26.5" lengthAdjust="spacingAndGlyphs">0 h</text>
<rect x="646.3" y="1047.1" width="12" height="12.1" fill="#44546a" stroke="#0d1522" stroke-width="1.4"/>
<text x="664.6" y="1057.7" font-size="17.2" font-weight="bold" font-style="normal" text-anchor="start" fill="#1a1a1a" stroke="#1a1a1a" stroke-width="0.35" textLength="26.5" lengthAdjust="spacingAndGlyphs">4 h</text>
</svg></body></html>
